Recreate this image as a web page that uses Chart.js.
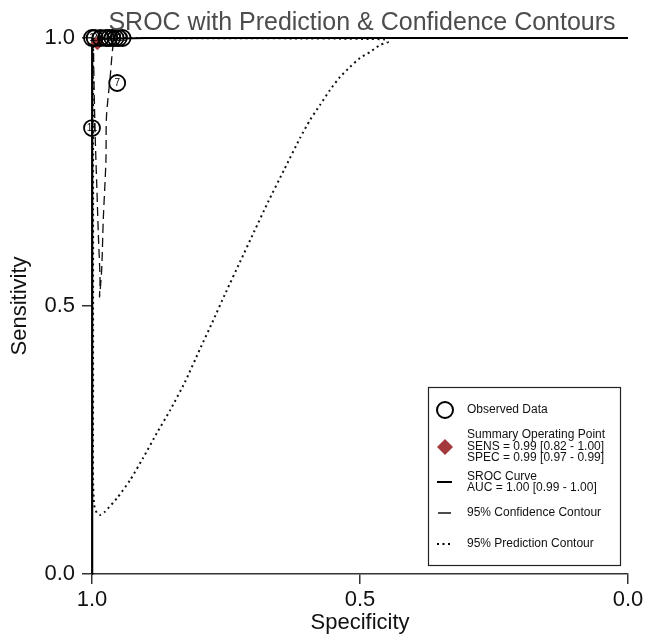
<!DOCTYPE html>
<html>
<head>
<meta charset="utf-8">
<script src="https://cdn.jsdelivr.net/npm/chart.js@4.4.1/dist/chart.umd.min.js"></script>
<style>
  html, body { margin: 0; padding: 0; background: #fff; }
  canvas { display: block; }
</style>
</head>
<body>
<canvas id="srocChart" width="646" height="636"></canvas>
<script>
// ====== Données ======
const obsIds  = ["1", "2", "3", "4", "5", "6", "8", "9", "10", "7", "11"];
const obsSpec = [1.0, 0.995, 0.984, 0.974, 0.968, 0.962, 0.956, 0.950, 0.943, 0.953, 1.0];
const obsSens = [1.0, 1.0, 1.0, 1.0, 1.0, 1.0, 1.0, 1.0, 1.0, 0.916, 0.832];

const sumSpec = [0.99];
const sumSens = [0.99];

const srocSpec = [1.0, 1.0, 0.999, 0.99, 0.9, 0.5, 0.0];
const srocSens = [0.0, 0.9, 0.99, 0.998, 1.0, 1.0, 1.0];

const confSpec = [0.996, 0.997, 0.996, 0.994, 0.991, 0.988, 0.985, 0.986, 0.982, 0.979, 0.974, 0.973, 0.966, 0.961, 0.957, 0.966, 0.985, 0.996];
const confSens = [0.998, 0.978, 0.903, 0.815, 0.722, 0.629, 0.549, 0.517, 0.567, 0.660, 0.772, 0.853, 0.928, 0.984, 0.998, 0.999, 0.999, 0.998];

const predSpec = [0.998, 0.998, 0.998, 0.998, 0.998, 0.998, 0.996, 0.991, 0.985, 0.976, 0.953, 0.929, 0.905, 0.879, 0.854,
                  0.8265, 0.7985, 0.7761, 0.750, 0.7239, 0.6978, 0.6716, 0.6418, 0.6119, 0.5933, 0.5746, 0.556, 0.5373,
                  0.5187, 0.500, 0.4813, 0.4627, 0.4478, 0.4534, 0.4813, 0.537, 0.612, 0.705, 0.800, 0.890, 0.985, 0.998];
const predSens = [1.0, 0.884, 0.698, 0.511, 0.325, 0.175, 0.129, 0.114, 0.110, 0.116, 0.142, 0.175, 0.216, 0.263, 0.306,
                  0.3582, 0.4198, 0.4683, 0.5261, 0.5821, 0.6381, 0.694, 0.7537, 0.8134, 0.847, 0.875, 0.903, 0.9272,
                  0.9459, 0.9627, 0.9739, 0.9869, 0.9925, 0.9972, 0.9981, 0.9988, 0.9992, 0.9995, 0.9997, 0.9998, 0.9999, 1.0];

const axisTicks = [0, 0.5, 1.0];
const chartTitle = "SROC with Prediction & Confidence Contours";
const legendLines = [
  ["Observed Data"],
  ["Summary Operating Point", "SENS = 0.99 [0.82 - 1.00]", "SPEC = 0.99 [0.97 - 0.99]"],
  ["SROC Curve", "AUC = 1.00 [0.99 - 1.00]"],
  ["95% Confidence Contour"],
  ["95% Prediction Contour"]
];

const FONT = "'Liberation Sans', Arial, sans-serif";
const RED = "#a3393d";

function pts(xs, ys) {
  return xs.map((x, i) => ({ x, y: ys[i] }));
}

// ====== Plugins : titre, numéros d'études, légende ======
const titlePlugin = {
  id: "srocTitle",
  afterDraw(chart) {
    const { ctx, chartArea } = chart;
    ctx.save();
    ctx.font = "25px " + FONT;
    ctx.fillStyle = "#4d4d4d";
    ctx.textAlign = "center";
    ctx.textBaseline = "alphabetic";
    ctx.fillText(chartTitle, (chartArea.left + chartArea.right) / 2 + 2, 30);
    ctx.restore();
  }
};

const idsPlugin = {
  id: "studyIds",
  afterDatasetsDraw(chart) {
    const meta = chart.getDatasetMeta(0);
    const { ctx } = chart;
    ctx.save();
    ctx.font = "10px " + FONT;
    ctx.fillStyle = "#000";
    ctx.textAlign = "center";
    ctx.textBaseline = "middle";
    meta.data.forEach((el, i) => ctx.fillText(obsIds[i], el.x, el.y + 0.5));
    ctx.restore();
  }
};

const legendPlugin = {
  id: "srocLegend",
  afterDraw(chart) {
    const { ctx } = chart;
    const bx = 428, by = 387, bw = 192, bh = 178;
    ctx.save();
    ctx.strokeStyle = "#222";
    ctx.lineWidth = 1.2;
    ctx.strokeRect(bx + 0.5, by + 0.5, bw, bh);

    const ix = 445, tx = 467;
    ctx.font = "12px " + FONT;
    ctx.fillStyle = "#111";
    ctx.textAlign = "left";
    ctx.textBaseline = "middle";

    // Observed
    ctx.beginPath();
    ctx.arc(ix, 410, 8, 0, Math.PI * 2);
    ctx.lineWidth = 2;
    ctx.strokeStyle = "#000";
    ctx.stroke();
    ctx.fillText(legendLines[0][0], tx, 410);

    // Summary
    ctx.beginPath();
    ctx.moveTo(ix, 439); ctx.lineTo(ix + 8, 447); ctx.lineTo(ix, 455); ctx.lineTo(ix - 8, 447);
    ctx.closePath();
    ctx.fillStyle = RED;
    ctx.fill();
    ctx.fillStyle = "#111";
    legendLines[1].forEach((t, i) => ctx.fillText(t, tx, 435 + i * 11.5));

    // SROC
    ctx.beginPath();
    ctx.moveTo(437, 482); ctx.lineTo(452, 482);
    ctx.lineWidth = 2;
    ctx.stroke();
    legendLines[2].forEach((t, i) => ctx.fillText(t, tx, 477 + i * 11));

    // Confidence
    ctx.beginPath();
    ctx.moveTo(438, 513); ctx.lineTo(451, 513);
    ctx.lineWidth = 1.4;
    ctx.stroke();
    ctx.fillText(legendLines[3][0], tx, 513);

    // Prediction
    ctx.beginPath();
    ctx.setLineDash([2, 3.5]);
    ctx.moveTo(437, 544); ctx.lineTo(453, 544);
    ctx.lineWidth = 2;
    ctx.stroke();
    ctx.setLineDash([]);
    ctx.fillText(legendLines[4][0], tx, 544);
    ctx.restore();
  }
};

// ====== Graphique ======
function axisOpts(title, isX) {
  return {
    type: "linear",
    min: 0,
    max: 1,
    reverse: isX,
    afterBuildTicks: s => { s.ticks = axisTicks.map(v => ({ value: v })); },
    afterFit: s => { if (isX) s.height = 62; else s.width = 92; },
    ticks: {
      callback: v => Number(v).toFixed(1),
      font: { family: FONT, size: 22 },
      color: "#111",
      padding: isX ? 3 : 7,
      maxRotation: 0,
      autoSkip: false
    },
    grid: {
      drawOnChartArea: false,
      drawTicks: true,
      tickLength: 10,
      color: "#333",
      lineWidth: 1.5
    },
    border: { display: true, color: "#333", width: 1.5 },
    title: {
      display: true,
      text: title,
      font: { family: FONT, size: 22 },
      color: "#111",
      padding: isX ? { top: 0, bottom: 0 } : { top: 7, bottom: 0 }
    }
  };
}

function renderChart() {
  const ctx = document.getElementById("srocChart").getContext("2d");
  new Chart(ctx, {
    type: "scatter",
    data: {
      datasets: [
        {
          label: "Observed Data",
          data: pts(obsSpec, obsSens),
          pointStyle: "circle",
          pointRadius: 8,
          pointBorderWidth: 1.8,
          borderColor: "#000",
          backgroundColor: "rgba(0,0,0,0)",
          clip: false
        },
        {
          label: "Summary Operating Point",
          data: pts(sumSpec, sumSens),
          pointStyle: "rectRot",
          pointRadius: 7,
          pointBorderWidth: 0,
          backgroundColor: RED,
          borderColor: RED,
          clip: false
        },
        {
          label: "SROC Curve",
          data: pts(srocSpec, srocSens),
          showLine: true,
          pointRadius: 0,
          borderColor: "#000",
          borderWidth: 2,
          tension: 0,
          clip: false
        },
        {
          label: "95% Confidence Contour",
          data: pts(confSpec, confSens),
          showLine: true,
          pointRadius: 0,
          borderColor: "#111",
          borderWidth: 1.3,
          borderDash: [9, 5],
          tension: 0.3,
          clip: false
        },
        {
          label: "95% Prediction Contour",
          data: pts(predSpec, predSens),
          showLine: true,
          pointRadius: 0,
          borderColor: "#111",
          borderWidth: 2,
          borderDash: [2, 3.5],
          tension: 0.2,
          clip: false
        }
      ]
    },
    options: {
      responsive: false,
      animation: false,
      layout: { padding: { top: 38, right: 18, left: 0, bottom: 0 }, autoPadding: false },
      plugins: {
        legend: { display: false },
        title: { display: false },
        tooltip: { enabled: false }
      },
      scales: {
        x: axisOpts("Specificity", true),
        y: axisOpts("Sensitivity", false)
      }
    },
    plugins: [titlePlugin, idsPlugin, legendPlugin]
  });
}

document.addEventListener("DOMContentLoaded", renderChart);
</script>
</body>
</html>
